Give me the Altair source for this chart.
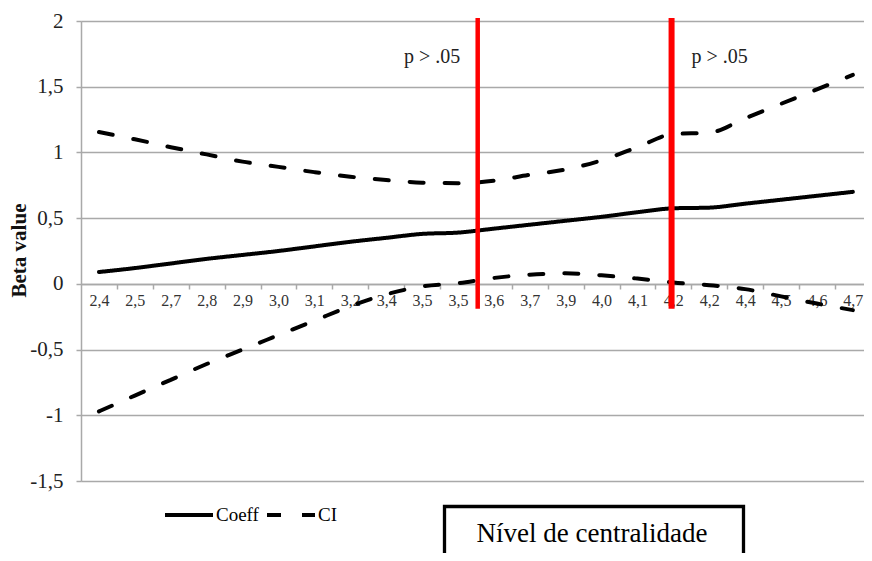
import altair as alt
import pandas as pd

# ---- data ----
x_labels = ['2,4', '2,5', '2,7', '2,8', '2,9', '3,0', '3,1', '3,2', '3,4', '3,5', '3,5',
            '3,6', '3,7', '3,9', '4,0', '4,1', '4,2', '4,2', '4,4', '4,5', '4,6', '4,7']
coeff = [0.09, 0.12, 0.155, 0.19, 0.22, 0.25, 0.285, 0.32, 0.35, 0.38, 0.39,
         0.42, 0.45, 0.48, 0.51, 0.545, 0.575, 0.58, 0.61, 0.64, 0.67, 0.70]
ci_upper = [1.155, 1.10, 1.04, 0.985, 0.93, 0.89, 0.85, 0.815, 0.79, 0.77, 0.766,
            0.785, 0.83, 0.87, 0.94, 1.04, 1.14, 1.15, 1.26, 1.37, 1.48, 1.59]
ci_lower = [-0.97, -0.85, -0.73, -0.61, -0.50, -0.39, -0.28, -0.17, -0.08, -0.02, 0.005,
            0.045, 0.07, 0.08, 0.065, 0.04, 0.01, -0.01, -0.04, -0.095, -0.15, -0.2]

sig_x = [11.05, 16.45]          # red significance boundaries (category units)
sig_width = [4.5, 6]
sig_top = [2.023, 2.023]
sig_bottom = [-0.19, -0.19]
ann_x = [9.78, 17.79]
ann_y = [1.68, 1.68]
ann_text = ['p > .05', 'p > .05']
x_title = 'Nível de centralidade'
y_title = 'Beta value'

# ---- tables ----
rows = []
for i, lab in enumerate(x_labels):
    pos = i + 0.5
    rows.append({'idx': pos, 'value': coeff[i], 'series': 'Coeff', 'kind': 'Coeff'})
    rows.append({'idx': pos, 'value': ci_upper[i], 'series': 'CI upper', 'kind': 'CI'})
    rows.append({'idx': pos, 'value': ci_lower[i], 'series': 'CI lower', 'kind': 'CI'})
long_df = pd.DataFrame(rows)

rules_df = pd.DataFrame({'x': sig_x, 'top': sig_top, 'bottom': sig_bottom, 'w': sig_width})
ann_df = pd.DataFrame({'x': ann_x, 'y': ann_y, 't': ann_text})
box_df = pd.DataFrame({'t': [x_title]})

FONT = 'Liberation Serif'
GRID = '#a9a9a9'

n = len(x_labels)
tick_vals = [k / 2 for k in range(1, 2 * n)]
labels_js = '[' + ','.join("'" + s + "'" for s in x_labels) + ']'

x_scale = alt.Scale(domain=[0, 21.81], nice=False, zero=False)
y_scale = alt.Scale(domain=[-1.5, 2], nice=False, zero=False)

x_axis = alt.Axis(
    values=tick_vals,
    labelExpr=f"datum.value % 1 == 0 ? '' : {labels_js}[floor(datum.value)]",
    tickOpacity={'condition': {'test': 'datum.value % 1 != 0', 'value': 0}, 'value': 1},
    grid=False, offset=-197, title=None,
    domainColor=GRID, domainWidth=1.5, tickColor=GRID, tickWidth=1.5, tickSize=5,
    labelFont=FONT, labelFontSize=16, labelColor='#333333', labelPadding=3,
    labelOverlap=False, labelFlush=False, labelBound=False,
)
y_axis = alt.Axis(
    values=[-1.5, -1, -0.5, 0, 0.5, 1, 1.5, 2],
    labelExpr="replace(toString(datum.value), '.', ',')",
    grid=True, gridColor=GRID, gridWidth=1.5,
    domainColor=GRID, domainWidth=1.5, tickColor=GRID, tickWidth=1.5, tickSize=5,
    labelFont=FONT, labelFontSize=21, labelColor='#222222', labelPadding=13,
    labelOverlap=False,
    title=y_title, titleFont=FONT, titleFontSize=21, titleFontWeight='bold',
    titleColor='#111111', titleAngle=270, titleAlign='center', titleBaseline='middle',
    titleX=-61.5, titleY=229,
)

lines = alt.Chart(long_df).mark_line(strokeWidth=4, interpolate='monotone',
                                     color='black', strokeCap='round').encode(
    x=alt.X('idx:Q', scale=x_scale, axis=x_axis),
    y=alt.Y('value:Q', scale=y_scale, axis=y_axis),
    strokeDash=alt.StrokeDash(
        'kind:N',
        scale=alt.Scale(domain=['Coeff', 'CI'], range=[[1, 0], [14, 21]]),
        legend=alt.Legend(
            title=None, orient='none', legendX=82, legendY=468, direction='horizontal',
            symbolType='stroke', symbolSize=2304, symbolStrokeWidth=4,
            symbolStrokeColor='black', labelFont=FONT, labelFontSize=19,
            labelColor='black', labelOffset=1, columnPadding=0, padding=0,
        ),
    ),
    detail='series:N',
)

rules = alt.Chart(rules_df).mark_rule(color='#ff0000').encode(
    x=alt.X('x:Q', scale=x_scale, axis=x_axis),
    y=alt.Y('top:Q', scale=y_scale, axis=y_axis),
    y2='bottom:Q',
    strokeWidth=alt.StrokeWidth('w:Q', scale=None),
)

ann = alt.Chart(ann_df).mark_text(font=FONT, fontSize=20, baseline='alphabetic',
                                  align='center', color='#222222').encode(
    x=alt.X('x:Q', scale=x_scale, axis=x_axis),
    y=alt.Y('y:Q', scale=y_scale, axis=y_axis),
    text='t:N',
)

box = alt.Chart(box_df).mark_rect(fill='white', stroke='black', strokeWidth=3.3).encode(
    x=alt.value(363.5), x2=alt.value(662.5), y=alt.value(485.5), y2=alt.value(550),
)
box_text = alt.Chart(box_df).mark_text(font=FONT, fontSize=27, baseline='alphabetic',
                                       align='center', color='black').encode(
    x=alt.value(511), y=alt.value(520.7), text='t:N',
)

chart = alt.layer(lines, rules, ann, box, box_text).properties(
    width=783, height=460, autosize='none',
    padding={'left': 73, 'top': 13, 'right': 0, 'bottom': 72},
    background='white',
).configure_view(stroke=None).configure(font=FONT).configure_axis(labelOverlap=False)

chart.save("out.html", embed_options={"renderer": "svg", "actions": False})
